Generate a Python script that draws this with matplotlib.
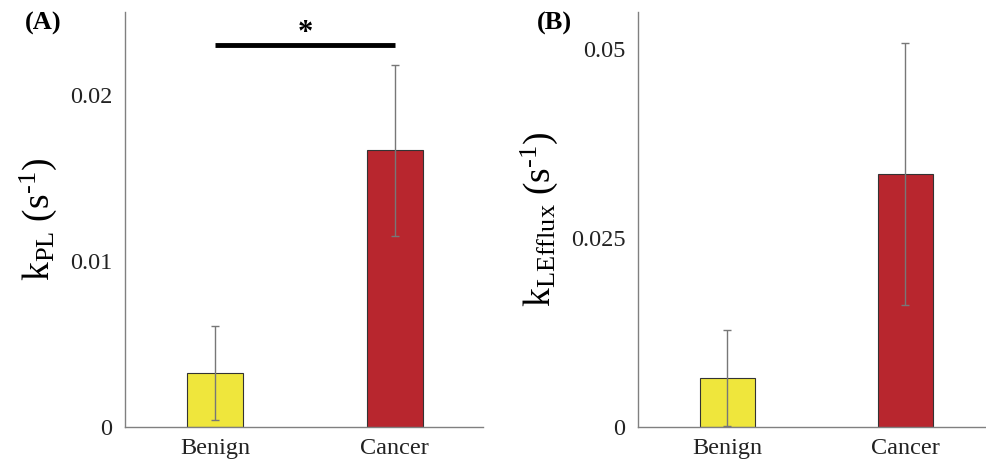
import matplotlib
matplotlib.use("Agg")
import matplotlib.pyplot as plt

plt.rcParams['font.family'] = ['Liberation Serif', 'DejaVu Serif']
plt.rcParams['mathtext.fontset'] = 'custom'
plt.rcParams['mathtext.rm'] = 'Liberation Serif'
plt.rcParams['mathtext.it'] = 'Liberation Serif'

# données
groups = ["Benign", "Cancer"]
kpl_mean = [0.00325, 0.01668]
kpl_err = [0.00283, 0.00515]
kle_mean = [0.00650, 0.03345]
kle_err = [0.00635, 0.01735]
colors = ["#EFE63C", "#B8262E"]

fig = plt.figure(figsize=(9.87, 4.68), dpi=100)
W, H = 987, 468

def px_axes(left, right, top, bottom):
    return fig.add_axes([left / W, 1 - bottom / H, (right - left) / W, (bottom - top) / H])

axA = px_axes(125, 483, 12, 427)
axB = px_axes(638, 1000, 12, 427)

for ax, mean, err, ylim, ticks, tlabels, xmax, ylabel, tag in [
    (axA, kpl_mean, kpl_err, 0.0250, [0, 0.01, 0.02], ["0", "0.01", "0.02"], 1.49,
     r"k$_{\mathrm{PL}}$ (s$^{\text{-1}}$)", "(A)"),
    (axB, kle_mean, kle_err, 0.0549, [0, 0.025, 0.05], ["0", "0.025", "0.05"], 1.53,
     r"k$_{\mathrm{LEfflux}}$ (s$^{\text{-1}}$)", "(B)"),
]:
    x = list(range(len(groups)))
    ax.bar(x, mean, width=0.31, color=colors, edgecolor="#333333", linewidth=0.8, zorder=2)
    ax.errorbar(x, mean, yerr=err, fmt="none", ecolor="#777777", elinewidth=1.0,
                capsize=3, capthick=1.0, zorder=3)
    ax.set_xlim(-0.5, xmax)
    ax.set_ylim(0, ylim)
    ax.set_yticks(ticks)
    ax.set_yticklabels(tlabels)
    ax.set_xticks(x)
    ax.set_xticklabels(groups)
    ax.tick_params(axis="both", length=0, labelsize=17.5, colors="#222222")
    ax.tick_params(axis="y", pad=9)
    ax.tick_params(axis="x", pad=8)
    for s in ["top", "right"]:
        ax.spines[s].set_visible(False)
    for s in ["left", "bottom"]:
        ax.spines[s].set_color("#808080")
        ax.spines[s].set_linewidth(1.0)
    ax.set_ylabel(ylabel, fontsize=27, labelpad=8)
    ax.text(-0.28, 1.0, tag, transform=ax.transAxes, fontsize=19, fontweight="bold",
            ha="left", va="top")

# barre de significativité
axA.plot([0, 1], [0.0230, 0.0230], color="black", linewidth=3.5, solid_capstyle="butt")
axA.text(0.5, 0.02285, "*", ha="center", va="bottom", fontsize=22, fontweight="bold")

fig.savefig("out.png", dpi=100)
